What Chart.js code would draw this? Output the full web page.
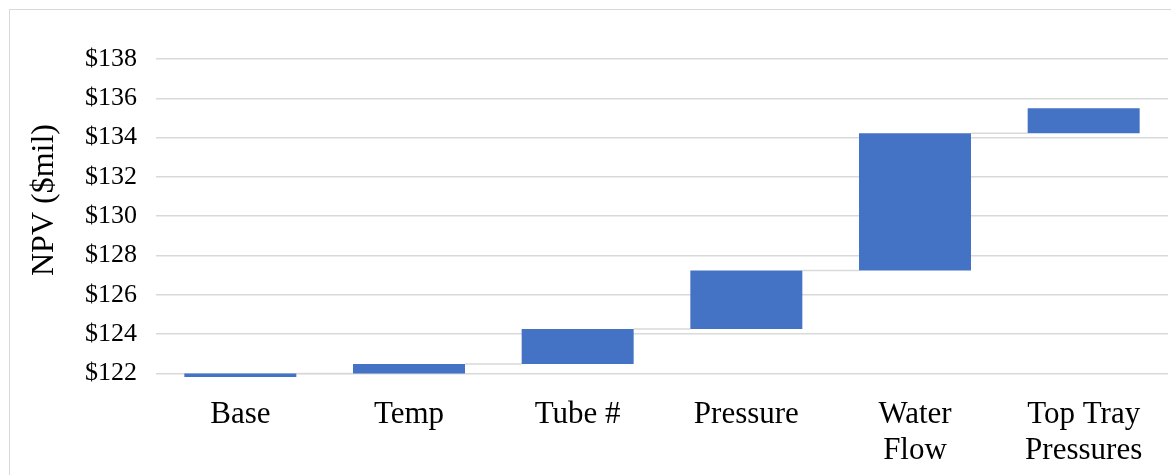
<!DOCTYPE html>
<html>
<head>
<meta charset="utf-8">
<script src="https://cdn.jsdelivr.net/npm/chart.js@4"></script>
<style>
    html, body { margin: 0; padding: 0; background: #fff; }
    #wrap { position: relative; width: 1171px; height: 475px; overflow: hidden; }
    #frame {
        position: absolute; left: 9px; top: 9px; width: 1200px; height: 500px;
        border: 1px solid #d9d9d9; box-sizing: border-box;
    }
    #npv { position: absolute; left: 0; top: 0; }
</style>
</head>
<body>
<div id="wrap">
    <div id="frame"></div>
    <canvas id="npv" width="1171" height="475"></canvas>
</div>
<script>
// NPV build-up, one bar per optimisation step ($mil)
const categories = ['Base', 'Temp', 'Tube #', 'Pressure', ['Water', 'Flow'], ['Top Tray', 'Pressures']];
const axisFloor = 121.82;
const npvAfterStep = [122.0, 122.48, 124.26, 127.24, 134.22, 135.5];
const tickValues = [122, 124, 126, 128, 130, 132, 134, 136, 138];
const yTitle = 'NPV ($mil)';

// each bar floats from the previous level up to its own level
const floating = npvAfterStep.map(function (v, i) {
    return [i === 0 ? axisFloor : npvAfterStep[i - 1], v];
});

const serif = "'Liberation Serif', 'Times New Roman', serif";

// thin grey links between the top of one bar and the next one
const connectors = {
    id: 'connectors',
    beforeDatasetsDraw: function (chart) {
        const bars = chart.getDatasetMeta(0).data;
        const y = chart.scales.y;
        const ctx = chart.ctx;
        ctx.save();
        ctx.strokeStyle = '#d9d9d9';
        ctx.lineWidth = 1.5;
        for (let i = 0; i < bars.length - 1; i++) {
            const yy = y.getPixelForValue(npvAfterStep[i]);
            ctx.beginPath();
            ctx.moveTo(bars[i].x + bars[i].width / 2, yy);
            ctx.lineTo(bars[i + 1].x - bars[i + 1].width / 2, yy);
            ctx.stroke();
        }
        ctx.restore();
    }
};

// rotated axis title, sitting a little above the middle of the plot
const sideTitle = {
    id: 'sideTitle',
    afterDraw: function (chart) {
        const ctx = chart.ctx;
        const area = chart.chartArea;
        ctx.save();
        ctx.translate(45, (area.top + area.bottom) / 2 - 18);
        ctx.rotate(-Math.PI / 2);
        ctx.font = '32px ' + serif;
        ctx.fillStyle = '#000';
        ctx.textAlign = 'center';
        ctx.textBaseline = 'middle';
        ctx.fillText(yTitle, 0, 0);
        ctx.restore();
    }
};

new Chart(document.getElementById('npv').getContext('2d'), {
    type: 'bar',
    data: {
        labels: categories,
        datasets: [{
            data: floating,
            backgroundColor: '#4472c4',
            borderWidth: 0,
            barPercentage: 1,
            categoryPercentage: 0.664
        }]
    },
    plugins: [connectors, sideTitle],
    options: {
        responsive: false,
        animation: false,
        layout: { padding: { top: 59, right: 3, bottom: 0, left: 0 } },
        plugins: {
            legend: { display: false },
            tooltip: { enabled: false }
        },
        scales: {
            x: {
                grid: { display: false },
                border: { display: false },
                ticks: {
                    color: '#000',
                    padding: 11,
                    maxRotation: 0,
                    autoSkip: false,
                    font: { family: serif, size: 31, lineHeight: 1.19 }
                },
                afterFit: function (s) { s.height = 98; }
            },
            y: {
                min: axisFloor,
                max: 138,
                border: { display: false },
                grid: { color: '#d9d9d9', lineWidth: 1.5, drawTicks: false },
                afterBuildTicks: function (s) {
                    s.ticks = tickValues.map(function (v) { return { value: v }; });
                },
                ticks: {
                    color: '#000',
                    padding: 19,
                    font: { family: serif, size: 26 },
                    callback: function (v) { return '$' + v; }
                },
                afterFit: function (s) { s.width = 156; }
            }
        }
    }
});
</script>
</body>
</html>
